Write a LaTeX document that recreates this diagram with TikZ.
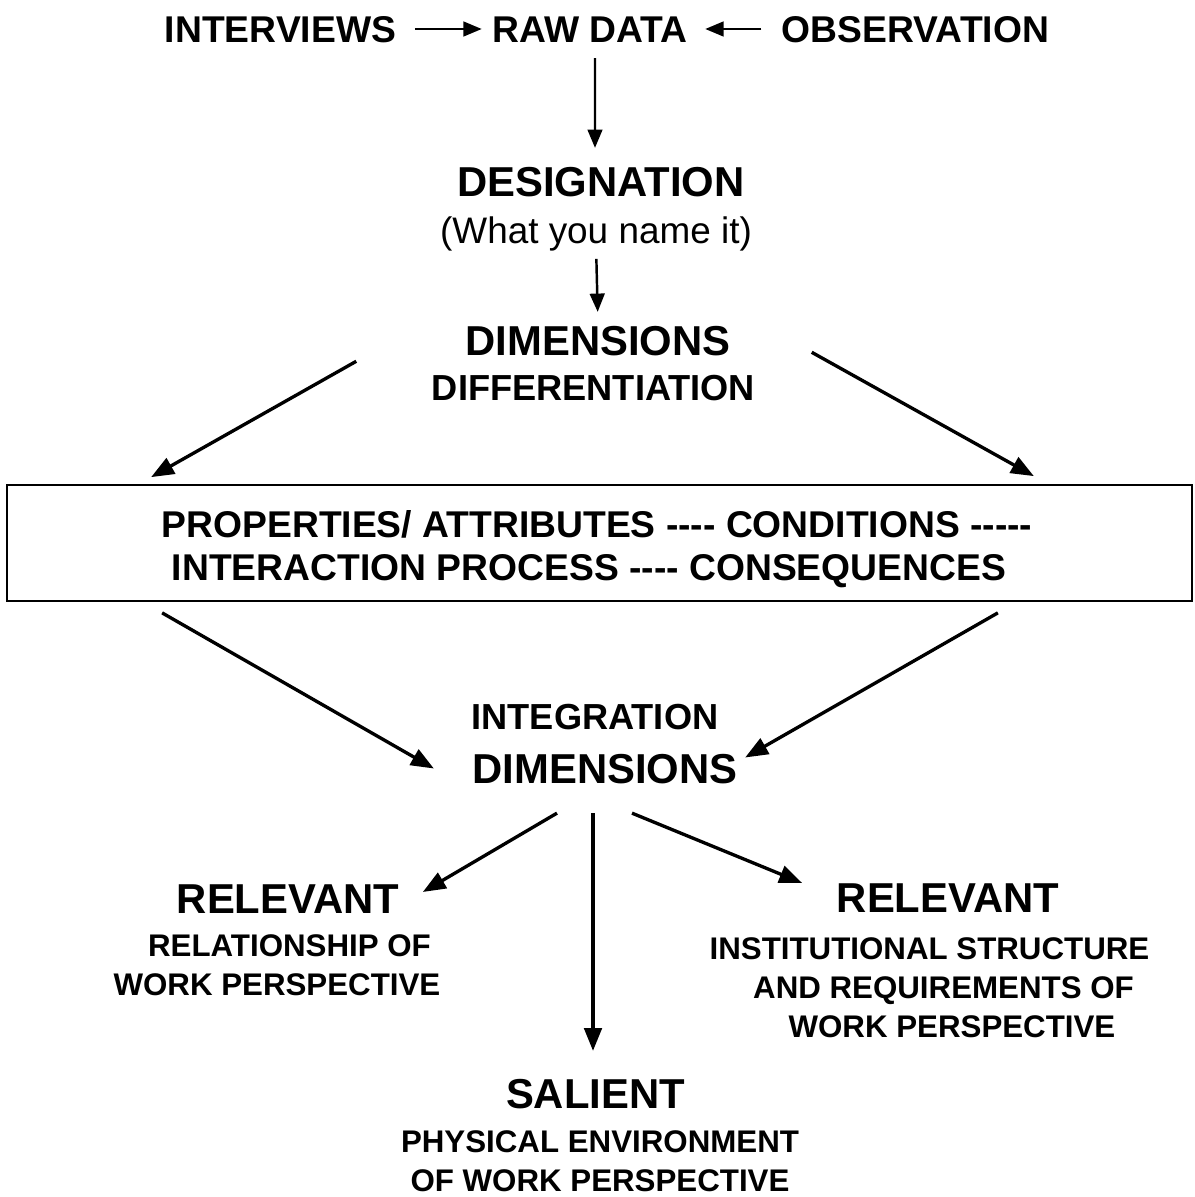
\documentclass[tikz,border=0pt]{standalone}
\usepackage{fontspec}
\setmainfont{Liberation Sans}
\usetikzlibrary{arrows.meta}

% plain hyphens, kept apart so they don't merge into dashes
\newcommand{\hyph}[1]{\foreach \i in {1,...,#1}{-\kern0pt}}

\begin{document}
\begin{tikzpicture}[
    lbl/.style={inner sep=0pt, text depth=0pt},
    toptxt/.style={lbl, text height=7.6pt, font=\bfseries\fontsize{10.6}{12}\selectfont},
    headtxt/.style={lbl, text height=8.5pt, font=\bfseries\fontsize{11.9}{14}\selectfont},
    midtxt/.style={lbl, text height=7.4pt, font=\bfseries\fontsize{10.3}{12}\selectfont},
    subtxt/.style={lbl, text height=6.4pt, font=\bfseries\fontsize{8.9}{10}\selectfont},
    arr/.style={-{Triangle[length=6.5pt,width=5pt]}, line width=0.95pt},
    thinarr/.style={-{Triangle[length=5.2pt,width=4.2pt]}, line width=0.6pt}
]
\useasboundingbox (0,0) rectangle (11.94,11.97);

% sources
\node[toptxt] (interviews) at (2.805,11.68) {INTERVIEWS};
\node[toptxt] (rawdata) at (5.90,11.68) {RAW DATA};
\node[toptxt] (observation) at (9.155,11.68) {OBSERVATION};
\draw[thinarr, shorten <=0.18cm, shorten >=0.10cm] (interviews.east)--(rawdata.west);
\draw[thinarr, shorten <=0.20cm, shorten >=0.17cm] (observation.west)--(rawdata.east);

% naming
\node[headtxt] (designation) at (6.01,10.155) {DESIGNATION};
\node[lbl, text height=7.5pt, font=\fontsize{10.5}{12}\selectfont] (naming) at (5.96,9.67) {(What you name it)};
\draw[thinarr, shorten <=0.15cm, shorten >=0.18cm] ([xshift=0.05cm]rawdata.south)--([xshift=-0.06cm]designation.north);

\node[headtxt] (dims) at (5.98,8.565) {DIMENSIONS};
\node[midtxt] (diff) at (5.935,8.10) {DIFFERENTIATION};
\draw[thinarr, line width=0.7pt, shorten <=0.15cm, shorten >=0.13cm] (naming.south)--(dims.north);

% the box
\node[draw, line width=0.5pt, minimum width=11.85cm, minimum height=1.16cm] (box) at (5.995,6.54) {};
\node[toptxt] (props) at (5.97,6.73) {PROPERTIES/ ATTRIBUTES \hyph{4} CONDITIONS \hyph{5}};
\node[toptxt] (process) at (5.89,6.30) {INTERACTION PROCESS \hyph{4} CONSEQUENCES};
\draw[arr] ([shift={(-0.75,0.12)}]diff.north west)--([shift={(1.45,0.07)}]box.north west);
\draw[arr] ([shift={(0.56,0.21)}]diff.north east)--([shift={(-1.59,0.08)}]box.north east);

% integration
\node[midtxt] (integ) at (5.95,4.805) {INTEGRATION};
\node[headtxt] (dims2) at (6.05,4.285) {DIMENSIONS};
\draw[arr] ([shift={(1.56,-0.11)}]box.south west)--([xshift=-0.38cm]dims2.west);
\draw[arr] ([shift={(-1.95,-0.11)}]box.south east)--([shift={(0.07,0.11)}]dims2.east);

% outcomes
\node[headtxt] (relL) at (2.88,2.985) {RELEVANT};
\node[subtxt] (relL1) at (2.895,2.52) {RELATIONSHIP OF};
\node[subtxt] (relL2) at (2.77,2.13) {WORK PERSPECTIVE};

\node[headtxt] (relR) at (9.48,2.995) {RELEVANT};
\node[subtxt] (relR1) at (9.295,2.49) {INSTITUTIONAL STRUCTURE};
\node[subtxt] (relR2) at (9.435,2.10) {AND REQUIREMENTS OF};
\node[subtxt] (relR3) at (9.52,1.71) {WORK PERSPECTIVE};

\node[headtxt] (salient) at (5.955,1.035) {SALIENT};
\node[subtxt] (sal1) at (6.00,0.56) {PHYSICAL ENVIRONMENT};
\node[subtxt] (sal2) at (6.00,0.17) {OF WORK PERSPECTIVE};

\draw[arr] ([shift={(-0.48,-0.29)}]dims2.south)--([shift={(0.23,0.065)}]relL.east);
\draw[arr] ([shift={(-0.12,-0.29)}]dims2.south)--([shift={(-0.025,0.27)}]salient.north);
\draw[arr] ([shift={(0.27,-0.29)}]dims2.south)--([shift={(-0.34,0.145)}]relR.west);

\end{tikzpicture}
\end{document}
